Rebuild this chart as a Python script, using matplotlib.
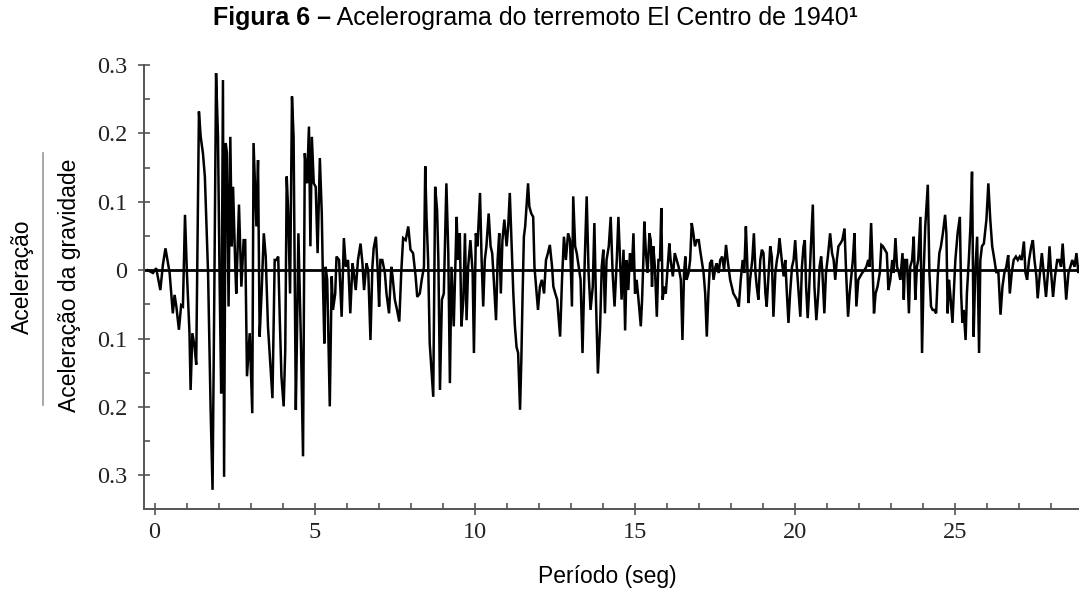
import matplotlib
matplotlib.use("Agg")
import matplotlib.pyplot as plt
from matplotlib.ticker import MultipleLocator, FixedLocator, FixedFormatter
from matplotlib.lines import Line2D

# ---- data ----
time_s = [
    -0.21, -0.05, 0.05, 0.18, 0.26, 0.34, 0.47, 0.57, 0.625, 0.68, 0.76, 0.83, 0.885, 0.95, 1.01,
    1.09, 1.125, 1.18, 1.25, 1.30, 1.385, 1.44, 1.51, 1.57, 1.67, 1.75, 1.81, 1.865, 1.92, 1.98,
    2.03, 2.08, 2.135, 2.17, 2.22, 2.26, 2.31, 2.365, 2.41, 2.45, 2.52, 2.55, 2.635, 2.71, 2.78,
    2.83, 2.885, 2.97, 3.05, 3.09, 3.18, 3.23, 3.28, 3.34, 3.41, 3.47, 3.54, 3.68, 3.75, 3.80,
    3.86, 3.91, 3.96, 4.03, 4.08, 4.125, 4.17, 4.23, 4.29, 4.34, 4.41, 4.45, 4.49, 4.53, 4.57,
    4.635,
    4.69, 4.76, 4.82, 4.865, 4.91, 4.97, 5.03, 5.09, 5.16, 5.22, 5.26, 5.30, 5.34, 5.39, 5.47,
    5.53, 5.57, 5.64, 5.68, 5.76, 5.84, 5.91, 5.97, 6.04, 6.11, 6.18, 6.22, 6.28, 6.35, 6.43,
    6.49, 6.54, 6.615, 6.67, 6.74, 6.80, 6.84, 6.91, 6.97, 7.01, 7.05, 7.11, 7.19, 7.24, 7.32,
    7.39, 7.43, 7.50, 7.57, 7.64, 7.70, 7.76, 7.84, 7.92, 7.99, 8.07, 8.15, 8.20, 8.28, 8.34,
    8.41, 8.45, 8.49, 8.54, 8.59, 8.70, 8.76, 8.82, 8.86, 8.91, 8.97, 9.03, 9.11, 9.17, 9.22,
    9.27, 9.34, 9.43, 9.47,
    9.53, 9.58, 9.64, 9.69, 9.74, 9.79, 9.86, 9.93, 9.97, 10.03, 10.08, 10.16, 10.21, 10.26, 10.31,
    10.36, 10.43, 10.49, 10.54, 10.59, 10.66, 10.71, 10.76, 10.81, 10.86, 10.92, 10.99, 11.04, 11.09, 11.15,
    11.20, 11.25, 11.30, 11.35, 11.41, 11.45, 11.49, 11.53, 11.57, 11.61, 11.66, 11.70, 11.76, 11.82, 11.86,
    11.91, 11.97, 12.03, 12.09, 12.16, 12.22, 12.28, 12.34, 12.41, 12.45, 12.51, 12.57, 12.66, 12.72, 12.78,
    12.84, 12.91, 12.97, 13.03, 13.07, 13.13, 13.18, 13.24, 13.30, 13.36, 13.43, 13.49, 13.55, 13.61, 13.68,
    13.73, 13.78, 13.84, 13.91, 13.96, 14.01, 14.06, 14.11, 14.18, 14.24, 14.30, 14.36, 14.43, 14.48,
    14.58, 14.64, 14.69, 14.74, 14.79, 14.84, 14.90, 14.95, 15.00, 15.05, 15.10, 15.18, 15.22, 15.26, 15.29,
    15.34, 15.39, 15.45, 15.49, 15.53, 15.57, 15.62, 15.68, 15.73, 15.78, 15.82, 15.86, 15.91, 15.96, 16.01,
    16.07, 16.11, 16.18, 16.24, 16.30, 16.36, 16.43, 16.48, 16.53, 16.57, 16.61, 16.67, 16.72, 16.77, 16.82,
    16.87, 16.93, 16.99, 17.03, 17.08, 17.14, 17.19, 17.24, 17.29, 17.34, 17.40, 17.45, 17.51, 17.55, 17.61,
    17.66, 17.72, 17.78, 17.84, 17.89, 17.97, 18.07, 18.18, 18.24, 18.30, 18.36, 18.41, 18.46, 18.50, 18.54,
    18.59, 18.66, 18.71, 18.76, 18.80, 18.85, 18.91, 18.96, 19.01, 19.07, 19.11, 19.17, 19.22, 19.27, 19.32,
    19.38, 19.43, 19.47, 19.51,
    19.58, 19.64, 19.69, 19.74, 19.79, 19.84, 19.90, 19.95, 20.00, 20.05, 20.10, 20.16, 20.21, 20.26, 20.30,
    20.34, 20.39, 20.43, 20.49, 20.55, 20.60, 20.66, 20.72, 20.76, 20.81, 20.85, 20.91, 20.96, 21.02, 21.09,
    21.15, 21.20, 21.25, 21.30, 21.35, 21.41, 21.47, 21.54, 21.59, 21.65, 21.70, 21.76, 21.80, 21.85, 21.91,
    21.97, 22.03, 22.09, 22.16, 22.22, 22.28, 22.32, 22.37, 22.41, 22.46, 22.51, 22.57, 22.64, 22.69, 22.74,
    22.80, 22.86, 22.91, 22.97, 23.03, 23.07, 23.13, 23.18, 23.24, 23.28, 23.35, 23.39, 23.43, 23.49, 23.55,
    23.59, 23.65, 23.70, 23.75, 23.80, 23.84, 23.91,
    23.96, 24.01, 24.06, 24.14, 24.19, 24.24, 24.29, 24.34, 24.40, 24.45, 24.50, 24.55, 24.61, 24.68, 24.72,
    24.76, 24.80, 24.84, 24.91, 24.95, 25.00, 25.07, 25.14, 25.18, 25.22, 25.26, 25.32, 25.36, 25.42, 25.47,
    25.52, 25.57, 25.62, 25.68, 25.74, 25.78, 25.83, 25.89, 25.97, 26.03, 26.09, 26.15, 26.22, 26.28, 26.34,
    26.41, 26.47, 26.53, 26.59, 26.65, 26.70, 26.76, 26.82, 26.89, 26.95, 27.01, 27.07, 27.14, 27.19, 27.24,
    27.30, 27.37, 27.42, 27.47, 27.53, 27.57, 27.64, 27.70, 27.76, 27.83, 27.89, 27.94, 27.99, 28.05, 28.11,
    28.18, 28.24, 28.30, 28.35, 28.41, 28.46, 28.53, 28.59, 28.65, 28.72, 28.78, 28.84, 28.88,
]

accel_g = [
    0.0, -0.004, 0.003, -0.029, 0.008, 0.032, -0.004, -0.063, -0.036, -0.053, -0.087, -0.051, -0.053, 0.081, -0.004,
    -0.092, -0.175, -0.092, -0.112, -0.138, 0.232, 0.195, 0.171, 0.137, -0.004, -0.204, -0.321, -0.034, 0.288, 0.195,
    -0.014, -0.180, 0.278, -0.302, 0.186, 0.171, -0.053, 0.195, 0.035, 0.122, 0.005, -0.034, 0.096, -0.024, 0.044,
    0.044, -0.155, -0.092, -0.209, 0.186, 0.064, 0.161, -0.097, -0.034, 0.054, 0.020, -0.082, -0.187, 0.015, 0.015,
    0.020, -0.073, -0.155, -0.199, -0.116, 0.137, 0.088, -0.034, 0.254, 0.195, -0.204, -0.082, 0.054, -0.024, -0.107,
    -0.272,
    0.171, 0.127, 0.210, 0.035, 0.195, 0.127, 0.122, 0.025, 0.164, 0.083, -0.024, -0.107, 0.005, -0.014, -0.199,
    -0.009, -0.058, -0.034, 0.020, 0.015, -0.068, 0.047, 0.005, 0.015, -0.063, 0.010, -0.004, -0.029, 0.015, 0.039,
    0.010, -0.029, 0.010, 0.000, -0.102, 0.005, 0.032, 0.049, -0.004, -0.053, 0.015, 0.015, -0.004, -0.034, -0.063,
    0.005, -0.009, -0.043, -0.058, -0.075, -0.004, 0.047, 0.044, 0.064, 0.030, 0.025, -0.009, -0.039, -0.034, -0.014,
    0.005, 0.152, 0.078, 0.015, -0.107, -0.185, 0.122, 0.088, 0.015, -0.175, -0.043, -0.034, 0.127, 0.025, -0.165,
    0.005, -0.082, 0.078, 0.015,
    0.054, -0.082, -0.043, 0.054, -0.073, 0.005, 0.044, -0.004, -0.121, 0.054, 0.035, 0.113, 0.015, -0.053, 0.015,
    0.035, 0.083, 0.035, 0.025, -0.014, -0.073, 0.015, 0.054, -0.034, 0.044, 0.074, 0.035, 0.064, 0.113, 0.035,
    -0.034, -0.082, -0.112, -0.121, -0.204, -0.131, -0.034, 0.049, 0.064, 0.093, 0.127, 0.093, 0.083, 0.078, 0.005,
    -0.024, -0.058, -0.024, -0.014, -0.034, 0.015, 0.025, 0.037, 0.005, -0.024, -0.034, -0.043, -0.097, -0.014, 0.049,
    0.015, 0.054, 0.044, -0.053, 0.108, 0.035, 0.025, 0.005, -0.014, -0.121, 0.015, 0.108, -0.004, -0.058, -0.024,
    0.069, -0.043, -0.151, -0.082, 0.005, 0.030, -0.063, 0.015, 0.035, 0.078, -0.004, -0.053, 0.015, 0.078,
    -0.043, 0.030, -0.088, 0.015, -0.029, 0.025, 0.000, 0.054, -0.034, -0.014, -0.039, -0.082, -0.043, 0.015, 0.071,
    0.025, -0.004, 0.054, 0.044, -0.024, 0.035, 0.005, -0.068, 0.015, 0.015, 0.091, -0.043, -0.024, -0.034, 0.000,
    0.039, 0.015, -0.009, 0.025, 0.015, 0.005, -0.014, -0.102, -0.004, 0.020, -0.014, -0.004, 0.015, 0.069, 0.054,
    0.035, 0.044, 0.044, 0.030, 0.015, -0.004, -0.034, -0.097, -0.034, 0.010, 0.015, -0.014, 0.005, 0.010, -0.004,
    0.015, 0.020, 0.000, 0.037, 0.015, -0.014, -0.034, -0.043, -0.053, -0.014, 0.015, -0.004, 0.064, 0.015, -0.048,
    -0.014, 0.015, 0.054, -0.004, -0.024, -0.043, 0.015, 0.030, 0.025, -0.034, -0.053, -0.004, 0.035, 0.020, -0.068,
    -0.004, 0.015, 0.025, 0.047,
    0.015, -0.009, 0.015, -0.034, -0.077, -0.034, 0.005, 0.015, 0.044, 0.005, -0.029, -0.068, 0.005, 0.035, 0.044,
    -0.024, -0.070, -0.034, 0.035, 0.096, -0.024, -0.073, -0.034, 0.005, 0.020, -0.004, -0.063, -0.004, 0.020, 0.054,
    0.025, 0.015, -0.014, 0.015, 0.035, 0.039, 0.044, 0.061, -0.004, -0.068, -0.034, -0.004, 0.015, 0.054, -0.053,
    -0.014, -0.009, -0.004, 0.000, 0.005, 0.015, 0.005, 0.069, 0.015, -0.063, -0.034, -0.024, -0.004, 0.037, 0.035,
    0.030, 0.025, -0.029, -0.014, 0.015, -0.004, 0.047, 0.005, -0.004, -0.014, 0.025, -0.043, 0.015, 0.015, -0.063,
    0.005, 0.015, 0.049, -0.043, 0.005, 0.015, 0.078,
    -0.121, -0.004, 0.064, 0.125, -0.004, -0.053, -0.058, -0.058, -0.063, -0.009, 0.025, 0.035, 0.054, 0.081, 0.054,
    -0.063, -0.014, -0.034, -0.077, -0.034, 0.015, 0.054, 0.078, -0.034, -0.077, -0.058, -0.102, -0.034, 0.015, 0.064,
    0.144, -0.097, -0.004, 0.049, -0.121, 0.015, 0.035, 0.039, 0.074, 0.127, 0.074, 0.035, 0.015, -0.004, 0.000,
    -0.065, -0.024, -0.004, 0.005, 0.022, -0.034, -0.004, 0.015, 0.020, 0.015, 0.020, 0.015, 0.042, -0.004, -0.014,
    0.015, 0.035, 0.044, 0.015, -0.009, -0.041, -0.004, 0.025, -0.004, -0.039, -0.004, 0.035, -0.004, -0.039, -0.009,
    0.015, 0.015, 0.005, 0.039, -0.004, -0.043, -0.004, 0.005, 0.015, 0.005, 0.025, -0.004, 0.005,
]

y_ticks = [0.3, 0.2, 0.1, 0.0, -0.1, -0.2, -0.3]
y_tick_labels = ["0.3", "0.2", "0.1", "0", "0.1", "0.2", "0.3"]
y_minor = [0.25, 0.15, 0.05, -0.05, -0.15, -0.25]
x_ticks = [0, 5, 10, 15, 20, 25]
x_tick_labels = ["0", "5", "10", "15", "20", "25"]

title_bold = "Figura 6 \u2013"
title_rest = " Acelerograma do terremoto El Centro de 1940"
title_sup = "1"
x_label = "Per\u00edodo (seg)"
y_num = "Acelera\u00e7\u00e3o"
y_den = "Acelera\u00e7\u00e3o da gravidade"

# ---- figure ----
W, H = 1079, 592
fig = plt.figure(figsize=(W / 100, H / 100), dpi=100)
ax = fig.add_axes([144 / W, 1 - 509 / H, (W - 144) / W, (509 - 65) / H])

ax.plot(time_s, accel_g, color="black", lw=1.8, solid_joinstyle="miter")
ax.axhline(0, color="black", lw=2.0)

ax.set_xlim(-0.33, 28.86)
ax.set_ylim(-0.349, 0.3)

for s in ("top", "right"):
    ax.spines[s].set_visible(False)
for s in ("left", "bottom"):
    ax.spines[s].set_color("#555555")
    ax.spines[s].set_linewidth(1.4)

ax.yaxis.set_major_locator(FixedLocator(y_ticks))
ax.yaxis.set_major_formatter(FixedFormatter(y_tick_labels))
ax.yaxis.set_minor_locator(FixedLocator(y_minor))
ax.xaxis.set_major_locator(FixedLocator(x_ticks))
ax.xaxis.set_major_formatter(FixedFormatter(x_tick_labels))
ax.xaxis.set_minor_locator(MultipleLocator(1))

serif = ["Liberation Serif", "DejaVu Serif"]
ax.tick_params(axis="both", which="major", direction="inout", length=8, width=1.2,
               color="#555555", labelsize=17.5, pad=5)
ax.tick_params(axis="both", which="minor", direction="in", length=4, width=1.2, color="#555555")
ax.tick_params(axis="y", which="major", pad=8)
for lab in ax.get_xticklabels() + ax.get_yticklabels():
    lab.set_fontfamily(serif)
    lab.set_color("#222222")

sans = ["Liberation Sans", "DejaVu Sans"]
t1 = fig.text(213 / W, 1 - 25 / H, title_bold, fontsize=18, fontweight="bold",
              family=sans, va="baseline", ha="left")
t2 = ax.annotate(title_rest, xy=(1, 0), xycoords=t1, fontsize=18, family=sans,
                 va="bottom", ha="left", annotation_clip=False)
t3 = ax.annotate(title_sup, xy=(1, 1), xycoords=t2, fontsize=11, fontweight="bold",
                 family=sans, va="top", ha="left", annotation_clip=False)

fig.text(607 / W, 1 - 577 / H, x_label, fontsize=16.5, family=sans, ha="center", va="center")

fig.text(22 / W, 1 - 277 / H, y_num, fontsize=16.5, family=sans, rotation=90,
         ha="center", va="center")
fig.add_artist(Line2D([43 / W, 43 / W], [1 - 153 / H, 1 - 405 / H], color="#999999", lw=1.2,
                      transform=fig.transFigure))
fig.text(70 / W, 1 - 285 / H, y_den, fontsize=16.5, family=sans, rotation=90,
         ha="center", va="center")

fig.savefig("out.png", dpi=100)
